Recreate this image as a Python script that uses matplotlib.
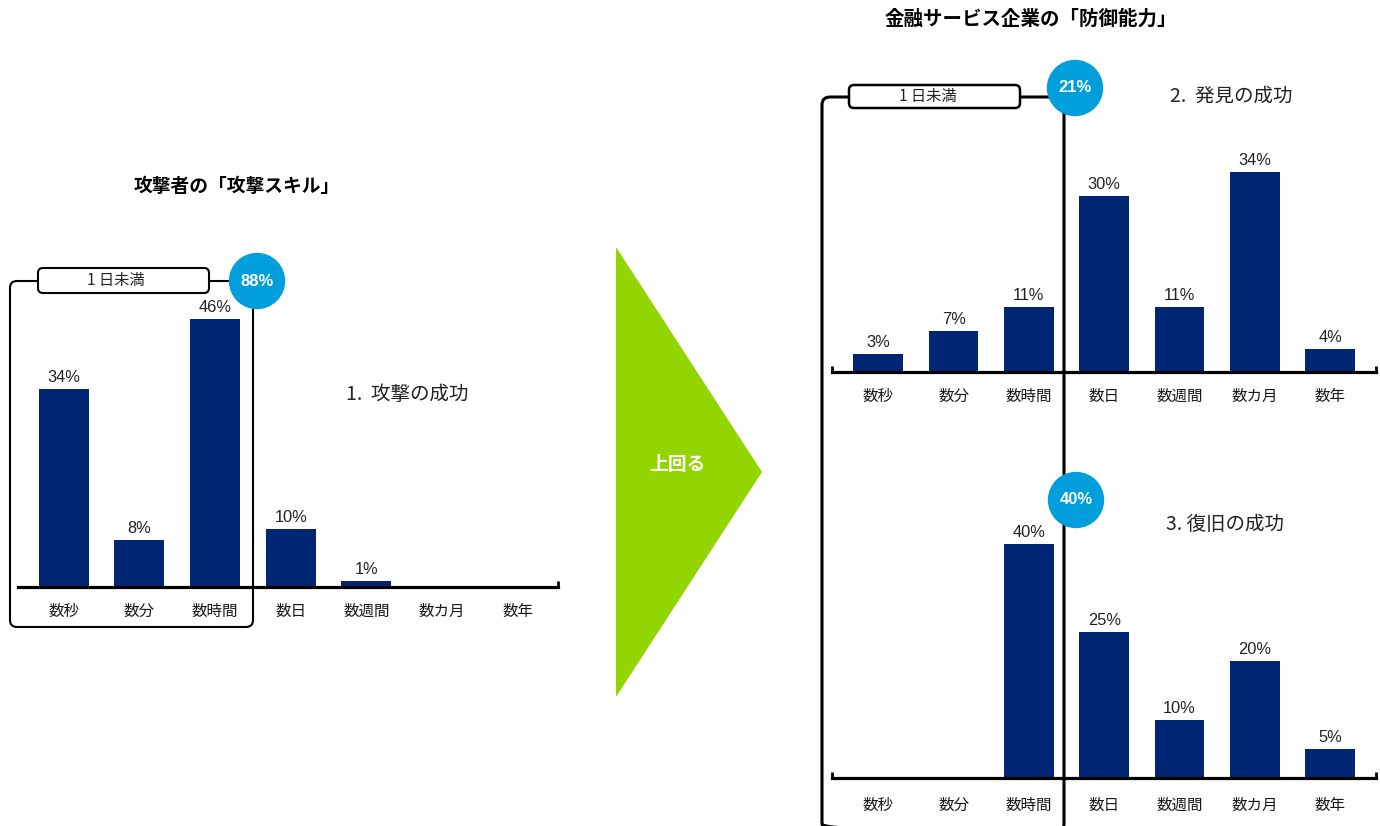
import matplotlib
matplotlib.use("Agg")
import matplotlib.pyplot as plt
from matplotlib.patches import FancyBboxPatch, Circle, Polygon

plt.rcParams["font.family"] = ["Noto Sans CJK JP", "DejaVu Sans"]

# ---- data ----
categories = ["数秒", "数分", "数時間", "数日", "数週間", "数カ月", "数年"]
attack_values = [34, 8, 46, 10, 1, 0, 0]
detect_values = [3, 7, 11, 30, 11, 34, 4]
recover_values = [0, 0, 40, 25, 10, 20, 5]

left_title = "攻撃者の「攻撃スキル」"
right_title = "金融サービス企業の「防御能力」"
panel_titles = ["1.  攻撃の成功", "2.  発見の成功", "3. 復旧の成功"]
under_day_label = "1 日未満"
under_day_shares = ["88%", "21%", "40%"]
arrow_label = "上回る"

BAR = "#012774"
BLUE = "#009FDB"
GREEN = "#93D500"
NUM_FONT = ["Liberation Sans", "DejaVu Sans"]

W, H = 1380, 826
fig = plt.figure(figsize=(W / 100, H / 100), dpi=100)


def px_axes(x0, x1, ybase, ytop):
    return fig.add_axes([x0 / W, (H - ybase) / H, (x1 - x0) / W, (ybase - ytop) / H])


def bar_panel(ax, values, xlim, ymax, label_off, ticks="both"):
    idx = list(range(len(categories)))
    ax.bar(idx, values, width=0.66, color=BAR, zorder=2)
    ax.set_xlim(*xlim)
    ax.set_ylim(0, ymax)
    for s in ["top", "left", "right"]:
        ax.spines[s].set_visible(False)
    ax.spines["bottom"].set_linewidth(2.3)
    ax.set_xticks([])
    ax.set_yticks([])
    ax.patch.set_alpha(0)
    ends = [xlim[1]] if ticks == "right" else list(xlim)
    for e in ends:
        ax.plot([e, e], [0, 1.1], color="black", lw=2, clip_on=False, solid_capstyle="butt")
    for i, v in enumerate(values):
        if v > 0:
            ax.annotate(f"{v}%", (i, v), xytext=(0, 4), textcoords="offset pixels",
                        ha="center", va="bottom", fontsize=11.8, family=NUM_FONT,
                        color="#222222")
    for i, c in enumerate(categories):
        ax.annotate(c, (i, 0), xytext=(0, -label_off), textcoords="offset pixels",
                    ha="center", va="center", fontsize=11.2, color="#1a1a1a",
                    annotation_clip=False)


ax1 = px_axes(18, 558, 587, 296)
bar_panel(ax1, attack_values, (-0.602, 6.531), 50, 24, ticks="right")

ax2 = px_axes(832, 1376, 372, 137.2)
bar_panel(ax2, detect_values, (-0.615, 6.61), 40, 24)

ax3 = px_axes(832, 1376, 778, 515)
bar_panel(ax3, recover_values, (-0.615, 6.61), 45, 27)

# ---- overlay decorations ----
ov = fig.add_axes([0, 0, 1, 1], zorder=5)
ov.set_xlim(0, W)
ov.set_ylim(H, 0)
ov.axis("off")
ov.patch.set_alpha(0)

# brackets
ov.add_patch(FancyBboxPatch((10, 281), 243, 346, boxstyle="round,pad=0,rounding_size=7",
                            fc="none", ec="black", lw=1.5))
ov.add_patch(FancyBboxPatch((822, 97), 242, 735, boxstyle="round,pad=0,rounding_size=8",
                            fc="none", ec="black", lw=2.2))

# "under one day" label boxes
for (bx, by, bw, bh, lw, tx) in [(38, 268, 171, 25, 1.5, 116), (849, 85, 171, 23, 1.8, 928)]:
    ov.add_patch(FancyBboxPatch((bx, by), bw, bh, boxstyle="round,pad=0,rounding_size=5",
                                fc="white", ec="black", lw=lw))
    ov.text(tx, by + bh / 2, under_day_label, ha="center", va="center", fontsize=11,
            color="#222222")

# share circles
for (cx, cy), s in zip([(257, 281), (1075, 88), (1076, 500)], under_day_shares):
    ov.add_patch(Circle((cx, cy), 27.5, color=BLUE))
    ov.text(cx, cy, s, ha="center", va="center", fontsize=12, fontweight="bold",
            color="white", family=NUM_FONT)

# green arrow
ov.add_patch(Polygon([(616, 247), (616, 697), (762, 472)], closed=True, color=GREEN, lw=0))
ov.text(677, 465, arrow_label, ha="center", va="center", fontsize=13.5, fontweight="bold",
        color="white")

# titles
ov.text(237, 187, left_title, ha="center", va="center", fontsize=13.5, fontweight="bold")
ov.text(1031, 19, right_title, ha="center", va="center", fontsize=14, fontweight="bold")
for (x, y), t in zip([(407, 394), (1231, 96), (1225, 525)], panel_titles):
    ov.text(x, y, t, ha="center", va="center", fontsize=14, color="#222222")

fig.savefig("out.png", dpi=100)
